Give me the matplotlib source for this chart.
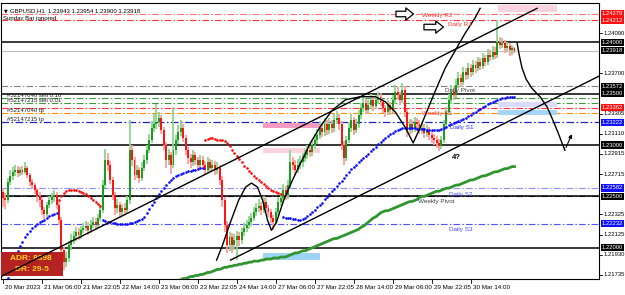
import numpy as np
import matplotlib
matplotlib.use("Agg")
import matplotlib.pyplot as plt
from matplotlib.patches import Rectangle

plt.rcParams['font.family'] = ['Liberation Sans', 'DejaVu Sans']

# ---------------- data ----------------
time_labels = ["20 Mar 2023", "21 Mar 06:00", "21 Mar 22:05", "22 Mar 14:00", "23 Mar 06:00",
               "23 Mar 22:05", "24 Mar 14:00", "27 Mar 06:00", "27 Mar 22:05", "28 Mar 14:00",
               "29 Mar 06:00", "29 Mar 22:05", "30 Mar 14:00"]
time_label_bars = [0, 16, 32, 48, 64, 80, 96, 112, 128, 144, 160, 176, 192]

first_open = 1.2254
closes = [
    1.2248, 1.2246, 1.2264, 1.2270, 1.2274, 1.2276, 1.2273, 1.2276, 1.2274, 1.2278,
    1.2271, 1.2264, 1.2261, 1.2256, 1.2250, 1.2246, 1.2237, 1.2233, 1.2242, 1.2246,
    1.2249, 1.2251, 1.2242, 1.2227, 1.2198, 1.2186, 1.2190, 1.2203, 1.2208, 1.2211,
    1.2215, 1.2212, 1.2217, 1.2219, 1.2221, 1.2217, 1.2222, 1.2225, 1.2222, 1.2229,
    1.2237, 1.2261, 1.2285, 1.2281, 1.2266, 1.2251, 1.2239, 1.2242, 1.2235, 1.2239,
    1.2237, 1.2246, 1.2295, 1.2285, 1.2271, 1.2276, 1.2268, 1.2278, 1.2285, 1.2295,
    1.2305, 1.2317, 1.2320, 1.2322, 1.2326, 1.2315, 1.2300, 1.2285, 1.2290, 1.2281,
    1.2295, 1.2305, 1.2313, 1.2317, 1.2307, 1.2295, 1.2287, 1.2283, 1.2290, 1.2285,
    1.2281, 1.2285, 1.2281, 1.2276, 1.2283, 1.2278, 1.2281, 1.2276, 1.2278, 1.2266,
    1.2246, 1.2222, 1.2203, 1.2210, 1.2203, 1.2208, 1.2211, 1.2208, 1.2215, 1.2219,
    1.2222, 1.2225, 1.2229, 1.2235, 1.2239, 1.2241, 1.2237, 1.2245, 1.2239, 1.2235,
    1.2229, 1.2225, 1.2235, 1.2245, 1.2248, 1.2256, 1.2251, 1.2261, 1.2283, 1.2281,
    1.2276, 1.2281, 1.2283, 1.2287, 1.2290, 1.2295, 1.2293, 1.2300, 1.2305, 1.2310,
    1.2317, 1.2313, 1.2320, 1.2315, 1.2320, 1.2317, 1.2324, 1.2326, 1.2320, 1.2300,
    1.2287, 1.2305, 1.2317, 1.2324, 1.2315, 1.2320, 1.2329, 1.2336, 1.2341, 1.2334,
    1.2339, 1.2344, 1.2338, 1.2344, 1.2347, 1.2342, 1.2336, 1.2332, 1.2339, 1.2334,
    1.2344, 1.2352, 1.2349, 1.2344, 1.2354, 1.2332, 1.2315, 1.2320, 1.2317, 1.2322,
    1.2320, 1.2315, 1.2317, 1.2312, 1.2315, 1.2310, 1.2307, 1.2305, 1.2302, 1.2299,
    1.2305, 1.2320, 1.2332, 1.2344, 1.2352, 1.2349, 1.2358, 1.2365, 1.2361, 1.2371,
    1.2368, 1.2375, 1.2371, 1.2378, 1.2375, 1.2381, 1.2377, 1.2385, 1.2381, 1.2388,
    1.2386, 1.2391, 1.2388, 1.2400, 1.2397, 1.2399, 1.2394, 1.2396, 1.2392, 1.23943,
    1.23918]
highs = [
    1.2258, 1.2253, 1.2268, 1.2276, 1.2279, 1.2281, 1.2280, 1.2279, 1.2280, 1.2283,
    1.2280, 1.2273, 1.2267, 1.2263, 1.2258, 1.2254, 1.2249, 1.2240, 1.2245, 1.2250,
    1.2253, 1.2256, 1.2254, 1.2245, 1.2230, 1.2201, 1.2196, 1.2207, 1.2213, 1.2216,
    1.2220, 1.2219, 1.2221, 1.2224, 1.2226, 1.2225, 1.2227, 1.2230, 1.2229, 1.2233,
    1.2242, 1.2266, 1.2296, 1.2292, 1.2284, 1.2269, 1.2254, 1.2247, 1.2245, 1.2243,
    1.2244, 1.2250, 1.2324, 1.2300, 1.2288, 1.2281, 1.2279, 1.2283, 1.2290, 1.2300,
    1.2311, 1.2323, 1.2330, 1.2340, 1.2332, 1.2329, 1.2318, 1.2303, 1.2296, 1.2293,
    1.2337, 1.2310, 1.2319, 1.2324, 1.2320, 1.2310, 1.2298, 1.2291, 1.2295, 1.2293,
    1.2288, 1.2290, 1.2289, 1.2284, 1.2288, 1.2286, 1.2285, 1.2284, 1.2283, 1.2281,
    1.2270, 1.2249, 1.2226, 1.2215, 1.2214, 1.2213, 1.2216, 1.2215, 1.2219, 1.2224,
    1.2227, 1.2231, 1.2234, 1.2240, 1.2244, 1.2247, 1.2245, 1.2250, 1.2248, 1.2242,
    1.2238, 1.2232, 1.2239, 1.2249, 1.2253, 1.2262, 1.2260, 1.2266, 1.2295, 1.2288,
    1.2285, 1.2286, 1.2289, 1.2292, 1.2296, 1.2300, 1.2299, 1.2305, 1.2311, 1.2316,
    1.2323, 1.2321, 1.2326, 1.2324, 1.2326, 1.2324, 1.2330, 1.2333, 1.2330, 1.2323,
    1.2304, 1.2309, 1.2322, 1.2330, 1.2327, 1.2325, 1.2334, 1.2341, 1.2347, 1.2345,
    1.2344, 1.2350, 1.2348, 1.2349, 1.2352, 1.2351, 1.2345, 1.2339, 1.2344, 1.2342,
    1.2349, 1.2358, 1.2356, 1.2352, 1.2360, 1.2357, 1.2335, 1.2325, 1.2324, 1.2327,
    1.2326, 1.2324, 1.2322, 1.2320, 1.2319, 1.2318, 1.2314, 1.2311, 1.2309, 1.2306,
    1.2309, 1.2324, 1.2337, 1.2350, 1.2358, 1.2356, 1.2364, 1.2371, 1.2369, 1.2376,
    1.2375, 1.2380, 1.2379, 1.2383, 1.2382, 1.2386, 1.2385, 1.2390, 1.2388, 1.2393,
    1.2392, 1.2396, 1.2395, 1.2422, 1.2405, 1.2404, 1.2402, 1.2400, 1.2399, 1.2397,
    1.23954]
lows = [
    1.2240, 1.2238, 1.2244, 1.2261, 1.2266, 1.2270, 1.2269, 1.2270, 1.2271, 1.2272,
    1.2268, 1.2260, 1.2257, 1.2252, 1.2245, 1.2240, 1.2232, 1.2228, 1.2230, 1.2239,
    1.2243, 1.2245, 1.2238, 1.2222, 1.2192, 1.2178, 1.2181, 1.2186, 1.2198, 1.2204,
    1.2207, 1.2208, 1.2209, 1.2214, 1.2216, 1.2212, 1.2214, 1.2219, 1.2217, 1.2219,
    1.2226, 1.2234, 1.2258, 1.2275, 1.2262, 1.2246, 1.2232, 1.2234, 1.2229, 1.2231,
    1.2232, 1.2234, 1.2243, 1.2280, 1.2266, 1.2268, 1.2263, 1.2265, 1.2275, 1.2282,
    1.2292, 1.2302, 1.2313, 1.2316, 1.2318, 1.2311, 1.2295, 1.2278, 1.2281, 1.2272,
    1.2278, 1.2290, 1.2301, 1.2309, 1.2303, 1.2290, 1.2282, 1.2278, 1.2280, 1.2281,
    1.2276, 1.2278, 1.2277, 1.2271, 1.2273, 1.2274, 1.2275, 1.2271, 1.2272, 1.2261,
    1.2240, 1.2215, 1.2195, 1.2197, 1.2195, 1.2198, 1.2188, 1.2202, 1.2204, 1.2211,
    1.2215, 1.2218, 1.2221, 1.2226, 1.2231, 1.2235, 1.2232, 1.2234, 1.2235, 1.2230,
    1.2224, 1.2217, 1.2222, 1.2231, 1.2241, 1.2244, 1.2246, 1.2247, 1.2258, 1.2276,
    1.2271, 1.2273, 1.2277, 1.2279, 1.2283, 1.2286, 1.2288, 1.2289, 1.2296, 1.2301,
    1.2306, 1.2308, 1.2309, 1.2310, 1.2311, 1.2312, 1.2313, 1.2320, 1.2315, 1.2295,
    1.2281, 1.2284, 1.2302, 1.2313, 1.2310, 1.2312, 1.2317, 1.2325, 1.2332, 1.2330,
    1.2330, 1.2335, 1.2333, 1.2335, 1.2340, 1.2338, 1.2331, 1.2327, 1.2329, 1.2329,
    1.2331, 1.2340, 1.2344, 1.2339, 1.2341, 1.2327, 1.2308, 1.2311, 1.2312, 1.2313,
    1.2315, 1.2311, 1.2311, 1.2307, 1.2308, 1.2305, 1.2302, 1.2300, 1.2297, 1.2294,
    1.2296, 1.2302, 1.2317, 1.2329, 1.2340, 1.2344, 1.2346, 1.2355, 1.2356, 1.2358,
    1.2363, 1.2364, 1.2366, 1.2368, 1.2370, 1.2372, 1.2373, 1.2374, 1.2377, 1.2378,
    1.2382, 1.2383, 1.2384, 1.2385, 1.2393, 1.2394, 1.2390, 1.2391, 1.2387, 1.2388,
    1.23900]

# dotted trend line (blue = up phase, red = down phase): (first bar, values)
trend_up_segments = [
    (0, [1.2159, 1.2165, 1.2171, 1.2178, 1.2185, 1.2191, 1.2197, 1.2202, 1.2206, 1.2210,
         1.2213, 1.2216, 1.2219, 1.2221, 1.2223, 1.2225, 1.2226, 1.2227, 1.2229, 1.2231,
         1.2232, 1.2233, 1.2234]),
    (41, [1.2227, 1.2226, 1.2225, 1.2225, 1.2224, 1.2224, 1.2223, 1.2223, 1.2223, 1.2223,
          1.2223, 1.2224, 1.2224, 1.2225, 1.2226, 1.2227, 1.2228, 1.2230, 1.2234, 1.2238,
          1.2242, 1.2245, 1.2248, 1.2252, 1.2255, 1.2258, 1.2261, 1.2264, 1.2266, 1.2268,
          1.2270, 1.2271, 1.2272, 1.2273, 1.2274, 1.2275, 1.2275, 1.2276, 1.2276, 1.2277,
          1.2278, 1.2278]),
    (115, [1.2230, 1.2229, 1.2229, 1.2229, 1.2228, 1.2228, 1.2227, 1.2227, 1.2228, 1.2229,
           1.2231, 1.2233, 1.2235, 1.2237, 1.2240, 1.2242, 1.2244, 1.2247, 1.2249, 1.2252,
           1.2255, 1.2257, 1.2260, 1.2263, 1.2265, 1.2268, 1.2271, 1.2274, 1.2277, 1.2279,
           1.2281, 1.2283, 1.2285, 1.2287, 1.2289, 1.2291, 1.2294, 1.2296, 1.2298, 1.2301,
           1.2303, 1.2305, 1.2307, 1.2309, 1.2311, 1.2312, 1.2314, 1.2315, 1.2316, 1.2317,
           1.2317, 1.2317, 1.2317, 1.2317, 1.2317, 1.2316, 1.2316, 1.2316, 1.2316, 1.2315,
           1.2315, 1.2315, 1.2315, 1.2315, 1.2315, 1.2316, 1.2317, 1.2318, 1.2319, 1.2320,
           1.2321, 1.2322, 1.2323, 1.2324, 1.2325, 1.2326, 1.2328, 1.2329, 1.2331, 1.2332,
           1.2334, 1.2335, 1.2337, 1.2338, 1.2340, 1.2341, 1.2342, 1.2343, 1.2344, 1.2345,
           1.2346, 1.2346, 1.2347, 1.2347, 1.2347, 1.2347]),
]
trend_dn_segments = [
    (23, [1.2246, 1.2250, 1.2253, 1.2255, 1.2256, 1.2256, 1.2256, 1.2256, 1.2255, 1.2254,
          1.2253, 1.2252, 1.2250, 1.2248, 1.2246, 1.2245, 1.2243, 1.2241]),
    (83, [1.2305, 1.2306, 1.2307, 1.2307, 1.2306, 1.2305, 1.2305, 1.2305, 1.2304, 1.2302,
          1.2299, 1.2295, 1.2292, 1.2289, 1.2286, 1.2283, 1.2280, 1.2278, 1.2275, 1.2273,
          1.2270, 1.2268, 1.2266, 1.2264, 1.2262, 1.2260, 1.2258, 1.2256, 1.2255, 1.2254,
          1.2253, 1.2252]),
]
slow_ma_start = 73
slow_ma = [
    1.2169, 1.2170, 1.2170, 1.2171, 1.2172, 1.2172, 1.2173, 1.2173, 1.2174, 1.2174,
    1.2175, 1.2176, 1.2176, 1.2177, 1.2178, 1.2179, 1.2179, 1.2180, 1.2181, 1.2181,
    1.2182, 1.2182, 1.2183, 1.2183, 1.2184, 1.2184, 1.2185, 1.2185, 1.2186, 1.2186,
    1.2187, 1.2187, 1.2187, 1.2188, 1.2188, 1.2189, 1.2189, 1.2189, 1.2190, 1.2190,
    1.2190, 1.2191, 1.2191, 1.2191, 1.2192, 1.2193, 1.2194, 1.2195, 1.2195, 1.2196,
    1.2197, 1.2197, 1.2198, 1.2199, 1.2200, 1.2201, 1.2202, 1.2203, 1.2204, 1.2205,
    1.2206, 1.2207, 1.2208, 1.2209, 1.2209, 1.2210, 1.2211, 1.2212, 1.2213, 1.2214,
    1.2215, 1.2216, 1.2217, 1.2218, 1.2220, 1.2221, 1.2223, 1.2225, 1.2227, 1.2229,
    1.2230, 1.2232, 1.2234, 1.2235, 1.2236, 1.2236, 1.2237, 1.2238, 1.2239, 1.2240,
    1.2241, 1.2242, 1.2243, 1.2244, 1.2245, 1.2245, 1.2246, 1.2247, 1.2249, 1.2250,
    1.2250, 1.2251, 1.2252, 1.2253, 1.2254, 1.2255, 1.2255, 1.2256, 1.2257, 1.2258,
    1.2258, 1.2259, 1.2260, 1.2261, 1.2261, 1.2262, 1.2263, 1.2264, 1.2265, 1.2266,
    1.2266, 1.2267, 1.2268, 1.2269, 1.2270, 1.2270, 1.2271, 1.2272, 1.2273, 1.2274,
    1.2274, 1.2275, 1.2276, 1.2277, 1.2277, 1.2278, 1.2279, 1.2279]

# horizontal levels
level_prices = [1.24279, 1.24212, 1.24000, 1.23918, 1.23572, 1.23500, 1.23454, 1.23406,
                1.23362, 1.23309, 1.23222, 1.23000, 1.22582, 1.22506, 1.22500, 1.22232, 1.22000]
level_colors = ['#ff7070', '#ff3030', 'black', '#c0c0c0', '#808080', 'black', '#3a9a3a', '#3a9a3a',
                '#ff3030', '#ff8c00', '#2020c0', 'black', '#8c8cff', '#303030', 'black', '#5050ff', 'black']
level_styles = ['-.', '-.', '-', '-', '-.', '-', '-.', '-.', '-.', '-.', '-.', '-', '-.', '-.', '-', '-.', '-']
level_widths = [0.8, 0.8, 1.1, 0.8, 0.8, 1.1, 0.8, 0.8, 0.8, 0.8, 0.9, 1.1, 0.8, 0.8, 1.1, 0.8, 1.1]

level_names = ["Weekly R2", "Daily R1", "Daily Pivot", "Weekly R1", "Daily S1", "Daily S2", "Weekly Pivot", "Daily S3"]
level_name_bar = [172.1, 182.8, 181.6, 172.1, 183.6, 183.2, 170.5, 183.2]
level_name_price = [1.24256, 1.24168, 1.23526, 1.23311, 1.23166, 1.22523, 1.22455, 1.22173]
level_name_colors = ['#ff3030', '#ff3030', '#404040', '#ff3030', '#2a2aff', '#4a4aff', '#404040', '#4a4aff']

order_labels = ["#52147040 sell 0.16", "#52147215 sell 0.01", "#52147040 tp", "#52147215 tp"]
order_label_prices = [1.23454, 1.23406, 1.23309, 1.23222]

axis_tick_prices = [1.24090, 1.23700, 1.23305, 1.23110, 1.22915, 1.22715, 1.22325, 1.22125, 1.21930, 1.21735]
axis_box_prices = [1.24279, 1.24212, 1.24000, 1.23918, 1.23572, 1.23500, 1.23362, 1.23222,
                   1.23000, 1.22582, 1.22500, 1.22232, 1.22000]
axis_box_colors = ['#ff1010', '#ff1010', 'black', 'black', 'black', 'black', '#ff1010', '#1010ff',
                   'black', '#1010ff', 'black', '#1010ff', 'black']

# shaded zones
zone_x0 = [106.6, 106.6, 106.6, 203.3, 203.3, 203.3]
zone_x1 = [130.3, 130.3, 130.3, 227.5, 227.5, 227.5]
zone_lo = [1.23166, 1.22922, 1.21881, 1.24294, 1.23370, 1.23292]
zone_hi = [1.23214, 1.22971, 1.21949, 1.24362, 1.23419, 1.23341]
zone_colors = ['#f59ac0', '#fbd3de', '#9dd3f5', '#fbd3de', '#dcdcfa', '#a6d6f7']

# hand drawn lines
chan_up_x, chan_up_y = [-0.8, 219.3], [1.2172, 1.2433]
chan_lo_x, chan_lo_y = [93.4, 244.7], [1.2188, 1.2367]
wave_x = [87.7, 90.2, 93.4, 96.7, 99.6, 102.0, 104.5, 106.6, 108.6, 110.2, 112.3, 115.2, 118.9,
          122.1, 126.2, 130.3, 135.2, 140.6, 146.7, 152.9, 157.0, 161.1, 165.2, 168.4, 171.3,
          174.6, 177.9, 181.6, 185.7, 189.8, 193.9, 195.9]
wave_y = [1.2188, 1.2203, 1.2225, 1.2246, 1.2259, 1.2263, 1.2259, 1.2246, 1.2227, 1.2217, 1.2225,
          1.2246, 1.2266, 1.2282, 1.2302, 1.2318, 1.2334, 1.2344, 1.2347, 1.2347, 1.2342, 1.2332,
          1.2317, 1.2302, 1.2317, 1.2336, 1.2355, 1.2375, 1.2392, 1.2409, 1.2424, 1.2433]
path_x = [211.1, 211.9, 213.1, 214.8, 217.2, 220.5, 223.4, 225.8, 227.9, 229.5, 230.7]
path_y = [1.2399, 1.2388, 1.2375, 1.2364, 1.2355, 1.2347, 1.2337, 1.2324, 1.2312, 1.2302, 1.2295]
up_arrow = (230.7, 1.2295, 234.0, 1.2313)
hollow_arrows = [(160.2, 169.7, 1.24275), (171.7, 182.0, 1.24148)]
adr_box = (-0.8, 24.6, 1.21725, 1.21959)
adr_lines = ["ADR: 8398", "DR: 29-5"]

# ---------------- figure ----------------
W, H = 625, 295
fig = plt.figure(figsize=(W / 100, H / 100), dpi=100)
ax = fig.add_axes([1 / W, (H - 279) / H, 598 / W, 276 / H])
ax.set_xlim(-0.82, 244.7)
ax.set_ylim(1.21696, 1.24382)
ax.set_xticks([])
ax.set_yticks([])
for s in ax.spines.values():
    s.set_color('black')
    s.set_linewidth(0.8)

dashdot = (0, (6, 2, 1.3, 2))
for p, c, ls, lw in zip(level_prices, level_colors, level_styles, level_widths):
    style = dashdot if ls == '-.' else '-'
    ax.axhline(p, color=c, ls=style, lw=lw, zorder=1)

for x0, x1, lo, hi, c in zip(zone_x0, zone_x1, zone_lo, zone_hi, zone_colors):
    ax.add_patch(Rectangle((x0, lo), x1 - x0, hi - lo, color=c, lw=0, zorder=1.5))

# candles
n = len(closes)
xs = np.arange(n)
opens = np.array([first_open] + closes[:-1])
cl = np.array(closes)
up = cl >= opens
wick_cols = np.where(up, '#8fd48f', '#ff9c9c')
body_cols = np.where(up, '#1c9c1c', '#ff1414')
ax.vlines(xs, lows, highs, colors=wick_cols, lw=1.3, zorder=3)
bh = np.maximum(np.abs(cl - opens), 0.00004)
ax.bar(xs, bh, bottom=np.minimum(cl, opens), width=0.8, color=body_cols, lw=0, zorder=4)

# slow MA
ax.plot(np.arange(slow_ma_start, slow_ma_start + len(slow_ma)), slow_ma, color='#2f952f', lw=2.0, zorder=5)
# dotted trend line
for start, vals in trend_up_segments:
    ax.plot(np.arange(start, start + len(vals)), vals, ls='none', marker='o', ms=1.9, mew=0, color='#0a0aff', zorder=6)
for start, vals in trend_dn_segments:
    ax.plot(np.arange(start, start + len(vals)), vals, ls='none', marker='o', ms=1.9, mew=0, color='#ff0a0a', zorder=6)

# hand drawn annotations
ax.plot(chan_up_x, chan_up_y, color='black', lw=1.0, zorder=7)
ax.plot(chan_lo_x, chan_lo_y, color='black', lw=1.0, zorder=7)
ax.plot(wave_x, wave_y, color='black', lw=1.0, zorder=7)
ax.plot(path_x, path_y, color='black', lw=1.0, zorder=7)
ax.annotate('', xy=(up_arrow[2], up_arrow[3]), xytext=(up_arrow[0], up_arrow[1]),
            arrowprops=dict(arrowstyle='-|>', color='black', lw=0.8, mutation_scale=5), zorder=7)
for x0, x1, p in hollow_arrows:
    ax.annotate('', xy=(x1, p), xytext=(x0, p),
                arrowprops=dict(arrowstyle='simple,head_length=0.7,head_width=1.1,tail_width=0.5',
                                fc='white', ec='black', lw=0.9, mutation_scale=8), zorder=8)

# ADR box
ax.add_patch(Rectangle((adr_box[0], adr_box[2]), adr_box[1] - adr_box[0], adr_box[3] - adr_box[2],
                       color='#b52222', lw=0, zorder=6.5))
ax.text(3, adr_box[3] - 0.0006, adr_lines[0], color='#ffd21e', fontsize=6, fontweight='bold',
        va='center', ha='left', zorder=6.6)
ax.text(5, adr_box[2] + 0.0006, adr_lines[1], color='#ffd21e', fontsize=6, fontweight='bold',
        va='center', ha='left', zorder=6.6)

# level names
for t, bx, p, c in zip(level_names, level_name_bar, level_name_price, level_name_colors):
    ax.text(bx, p, t, color=c, fontsize=4.6, va='center', ha='left', zorder=9)
ax.text(184.4, 1.22883, "4?", color='black', fontsize=5.5, fontweight='bold', va='center', ha='left', zorder=9)

# order labels
for t, p in zip(order_labels, order_label_prices):
    ax.text(1.5, p + 0.00003, t, color='#202020', fontsize=4.3, va='bottom', ha='left', zorder=9)

# top-left info
fig.text(4 / W, 1 - 11 / H, "\u25bc", fontsize=3.5, va='center', ha='left', family='DejaVu Sans')
fig.text(10 / W, 1 - 11 / H, "GBPUSD,H1  1.23943 1.23954 1.23900 1.23918", fontsize=4.3, va='center', ha='left')
fig.text(3 / W, 1 - 18.5 / H, "Sunday Bar ignored", fontsize=4.3, va='center', ha='left')

# price axis
ytr = ax.get_yaxis_transform()
for p in axis_tick_prices:
    ax.plot([1.0, 1.0 + 3 / 598], [p, p], transform=ytr, color='black', lw=0.6, clip_on=False)
    ax.text(1.0 + 5 / 598, p, f"{p:.5f}", transform=ytr, fontsize=4.2, va='center', ha='left', clip_on=False)
for p, c in zip(axis_box_prices, axis_box_colors):
    ax.text(1.0 + 3 / 598, p, f"{p:.5f}", transform=ytr, fontsize=4.2, va='center', ha='left', color='white',
            clip_on=False, zorder=10, bbox=dict(boxstyle='square,pad=0.18', fc=c, ec='none'))

# time axis
xtr = ax.get_xaxis_transform()
for b, t in zip(time_label_bars, time_labels):
    ax.plot([b, b], [0, -4 / 276], transform=xtr, color='black', lw=0.6, clip_on=False)
    ax.text(b + 0.8, -6 / 276, t, transform=xtr, fontsize=4.5, va='top', ha='left', clip_on=False)

fig.savefig("out.png", dpi=100)
